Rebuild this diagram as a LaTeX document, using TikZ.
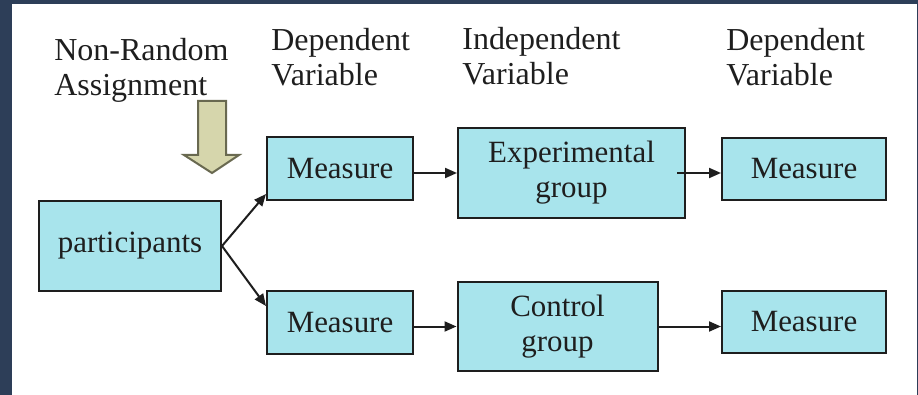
\documentclass[tikz,border=0pt]{standalone}
\usepackage{fontspec}
\setmainfont{Liberation Serif}
\usetikzlibrary{arrows.meta,calc}
\definecolor{slideblue}{RGB}{45,62,88}
\definecolor{boxcyan}{RGB}{168,228,236}
\definecolor{khaki}{RGB}{214,214,172}
\definecolor{khakiline}{RGB}{105,105,80}
\definecolor{inkgray}{RGB}{30,30,30}

\begin{document}
\begin{tikzpicture}[x=0.2mm,y=-0.2mm,
		box/.style={draw=inkgray,fill=boxcyan,line width=0.4mm,inner sep=0pt,align=center,
			font=\fontsize{17.6}{19.9}\selectfont,text=inkgray},
		lab/.style={anchor=north west,inner sep=0pt,align=left,
			font=\fontsize{18.2}{19.9}\selectfont,text=inkgray},
		link/.style={draw=inkgray,line width=0.4mm,-{Triangle[length=2.4mm,width=2mm]}}]
			% slide frame
			\useasboundingbox (0,0) rectangle (918,395);
			\fill [slideblue] (0,0) rectangle (918,395);
			\fill [white] (12,4) rectangle (917,395);
			% column headings
			\node [lab] (nra) at (54,38) {Non-Random\\Assignment};
			\node [lab] (dv1) at (271,28) {Dependent\\Variable};
			\node [lab] (iv) at (462,27) {Independent\\Variable};
			\node [lab] (dv2) at (726,28) {Dependent\\Variable};
			% assignment arrow
			\draw [khakiline,fill=khaki,line width=0.4mm] (198,101) -- (226,101) -- (226,155) -- (239,155)
				-- (212,173) -- (184,155) -- (198,155) -- cycle;
			% boxes
			\node [box,minimum width=3.64cm,minimum height=1.8cm] (pa) at (130,246) {participants};
			\node [box,minimum width=2.92cm,minimum height=1.26cm] (mt) at (340,168.5) {Measure};
			\node [box,minimum width=4.54cm,minimum height=1.8cm] (ex) at (571.5,173) {Experimental\\group};
			\node [box,minimum width=3.28cm,minimum height=1.24cm] (mtr) at (804,169) {Measure};
			\node [box,minimum width=2.92cm,minimum height=1.26cm] (mb) at (340,322.5) {Measure};
			\node [box,minimum width=4.0cm,minimum height=1.78cm] (cg) at (557.5,326.5) {Control\\group};
			\node [box,minimum width=3.28cm,minimum height=1.24cm] (mbr) at (804,322) {Measure};
			% connectors
			\draw [link] (pa.east) -- ($(mt.south west)+(0,-7)$);
			\draw [link] (pa.east) -- ($(mb.north west)+(0,16)$);
			\draw [link] (mt.east |- ex.west) -- (ex.west);
			\draw [link] ($(ex.east)+(-9,0)$) -- (ex.east -| mtr.west);
			\draw [link] (mb.east |- cg.west) -- (cg.west);
			\draw [link] (cg.east) -- (cg.east -| mbr.west);
		\end{tikzpicture}
\end{document}
